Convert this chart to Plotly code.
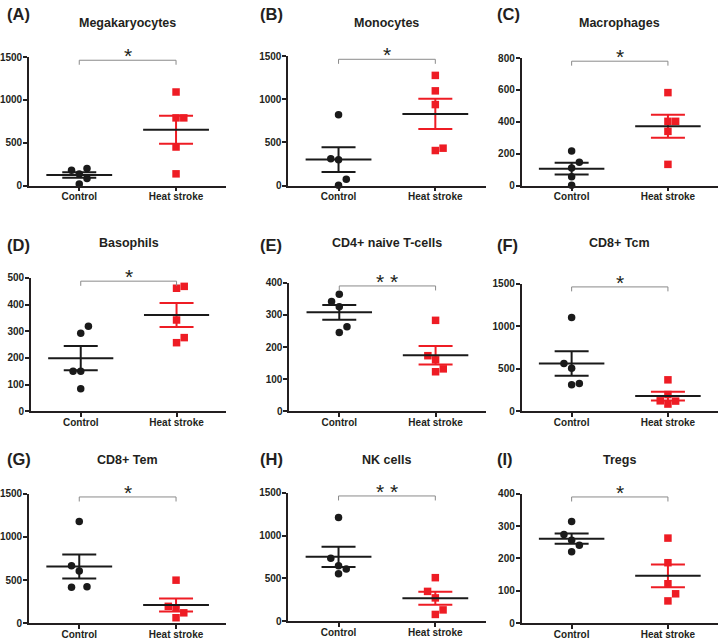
import numpy as np
import plotly.graph_objects as go

# ---------------- data ----------------
panel_letters = ["A", "B", "C", "D", "E", "F", "G", "H", "I"]
panel_titles = ["Megakaryocytes", "Monocytes", "Macrophages", "Basophils",
                "CD4+ naive T-cells", "CD8+ Tcm", "CD8+ Tem", "NK cells", "Tregs"]
categories = ["Control", "Heat stroke"]
significance = ["*", "*", "*", "*", "* *", "*", "*", "* *", "*"]
y_max = [1500, 1500, 800, 500, 400, 1500, 1500, 1500, 400]
y_step = [500, 500, 200, 100, 100, 500, 500, 500, 100]

control_values = [
    [179, 198, 134, 84, 19],
    [820, 311, 300, 72, 5],
    [217, 147, 110, 55, 2],
    [319, 292, 150, 150, 84],
    [364, 342, 325, 263, 245],
    [1103, 563, 505, 312, 328],
    [1179, 665, 605, 416, 423],
    [1211, 737, 649, 611, 554],
    [314, 274, 256, 241, 221],
]
heat_values = [
    [1092, 790, 790, 450, 137],
    [1276, 1097, 938, 406, 433],
    [583, 403, 403, 340, 133],
    [461, 468, 342, 276, 257],
    [283, 173, 160, 132, 123],
    [370, 197, 123, 120, 85],
    [499, 196, 178, 121, 64],
    [509, 349, 273, 133, 80],
    [263, 187, 122, 91, 69],
]
# horizontal scatter spread of individual points (category units)
control_spread = [
    [-0.08, 0.08, 0, 0.08, 0],
    [0, -0.08, 0, 0.08, 0],
    [0, 0.08, 0, 0, 0],
    [0.08, 0, -0.08, 0, 0],
    [0, -0.08, 0, 0.08, 0],
    [0, -0.08, 0, 0, 0.08],
    [0, -0.08, 0, -0.08, 0.08],
    [0, -0.08, 0, 0.08, 0],
    [0, -0.08, 0, 0.08, 0],
]
heat_spread = [
    [0, 0, 0.08, 0, 0],
    [0, 0, 0, 0, 0.08],
    [0, 0, 0.08, 0, 0],
    [0, 0.08, 0, 0.08, 0],
    [0, -0.08, 0, 0.08, 0],
    [0, 0, -0.08, 0.08, 0],
    [0, -0.08, 0, 0.08, 0],
    [0, -0.08, 0, 0.08, 0],
    [0, 0, 0, 0.08, 0],
]

# ---------------- layout geometry (pixels) ----------------
W, H = 720, 643
# (x_left, x_right, y_top, y_bottom) of each plot area
boxes = [
    (27, 225, 52, 183), (287, 485, 51, 183), (521, 718, 53, 183),
    (29, 225, 277, 413), (288, 485, 282, 413), (521, 718, 283, 413),
    (27, 225, 497, 629), (287, 485, 496, 627), (521, 718, 497, 629),
]
title_y = [17, 242, 463]
label_y = [8, 244, 462]
label_x = [3, 257, 494]

FONT = "Liberation Sans, Arial, sans-serif"
TXT = "#231f20"
BLACK = "#1a1a1a"
RED = "#ee1c24"
GREY = "#8a8a8a"

fig = go.Figure()
layout = dict(
    width=W, height=H, autosize=False,
    margin=dict(l=0, r=0, t=0, b=0),
    paper_bgcolor="white", plot_bgcolor="white",
    showlegend=False,
    font=dict(family=FONT, color=TXT),
)
annotations = []

for i in range(9):
    n = i + 1
    xa = "x" if n == 1 else f"x{n}"
    ya = "y" if n == 1 else f"y{n}"
    xl, xr, yt, yb = boxes[i]
    row, col = i // 3, i % 3

    layout["xaxis" if n == 1 else f"xaxis{n}"] = dict(
        domain=[xl / W, xr / W], anchor=ya,
        range=[-0.52, 1.52], tickvals=[0, 1], ticktext=categories,
        showline=True, linecolor=TXT, linewidth=1.5,
        ticks="outside", ticklen=4, tickwidth=1.5, tickcolor=TXT,
        showgrid=False, zeroline=False, fixedrange=True,
        tickfont=dict(family=FONT, size=10, color=TXT, weight="bold"),
        ticklabelstandoff=-3,
    )
    layout["yaxis" if n == 1 else f"yaxis{n}"] = dict(
        domain=[1 - yb / H, 1 - yt / H], anchor=xa,
        range=[0, y_max[i]], tick0=0, dtick=y_step[i],
        showline=True, linecolor=TXT, linewidth=1.5,
        ticks="outside", ticklen=4, tickwidth=1.5, tickcolor=TXT,
        showgrid=False, zeroline=False, fixedrange=True,
        tickfont=dict(family=FONT, size=10, color=TXT, weight="bold"),
        ticklabelstandoff=-1,
    )

    groups = [
        (0, control_values[i], control_spread[i], BLACK, "circle"),
        (1, heat_values[i], heat_spread[i], RED, "square"),
    ]
    # individual points
    for cx, vals, spread, colr, sym in groups:
        fig.add_trace(go.Scatter(
            x=[cx + s for s in spread], y=vals, mode="markers",
            marker=dict(color=colr, symbol=sym, size=7.5, line=dict(width=0)),
            xaxis=xa, yaxis=ya, cliponaxis=False, hoverinfo="skip",
        ))
    # SEM bars and mean lines
    for cx, vals, spread, colr, sym in groups:
        arr = np.array(vals, dtype=float)
        m = arr.mean()
        sem = arr.std(ddof=1) / np.sqrt(len(arr))
        fig.add_trace(go.Scatter(
            x=[cx], y=[m], mode="markers",
            marker=dict(size=1, opacity=0),
            error_y=dict(type="data", array=[sem], visible=True,
                         color=colr, thickness=2, width=17),
            xaxis=xa, yaxis=ya, cliponaxis=False, hoverinfo="skip",
        ))
        fig.add_trace(go.Scatter(
            x=[cx - 0.34, cx + 0.34], y=[m, m], mode="lines",
            line=dict(color=BLACK, width=2),
            xaxis=xa, yaxis=ya, cliponaxis=False, hoverinfo="skip",
        ))
    # significance bracket
    top = 0.975 * y_max[i]
    drop = 0.035 * y_max[i]
    fig.add_trace(go.Scatter(
        x=[0, 0, 1, 1], y=[top - drop, top, top, top - drop], mode="lines",
        line=dict(color=GREY, width=1),
        xaxis=xa, yaxis=ya, cliponaxis=False, hoverinfo="skip",
    ))
    annotations.append(dict(
        x=0.5, y=top, xref=xa, yref=ya, text=significance[i],
        showarrow=False, xanchor="center", yanchor="bottom", yshift=-9,
        font=dict(family=FONT, size=21, color=TXT),
    ))
    # panel title
    annotations.append(dict(
        x=0.5, y=1 - title_y[row] / H, xref=xa, yref="paper",
        text=panel_titles[i], showarrow=False,
        xanchor="center", yanchor="middle",
        font=dict(family=FONT, size=12.5, color=TXT, weight="bold"),
    ))
    # panel letter
    annotations.append(dict(
        x=label_x[col] / W, y=1 - label_y[row] / H, xref="paper", yref="paper",
        text=f"({panel_letters[i]})", showarrow=False,
        xanchor="left", yanchor="middle",
        font=dict(family=FONT, size=16.5, color=TXT, weight="bold"),
    ))

layout["annotations"] = annotations
fig.update_layout(**layout)
fig.write_html(
    "out.html",
    config={"displayModeBar": False},
    post_script="document.body.style.margin='0';document.body.style.overflow='hidden';",
)
